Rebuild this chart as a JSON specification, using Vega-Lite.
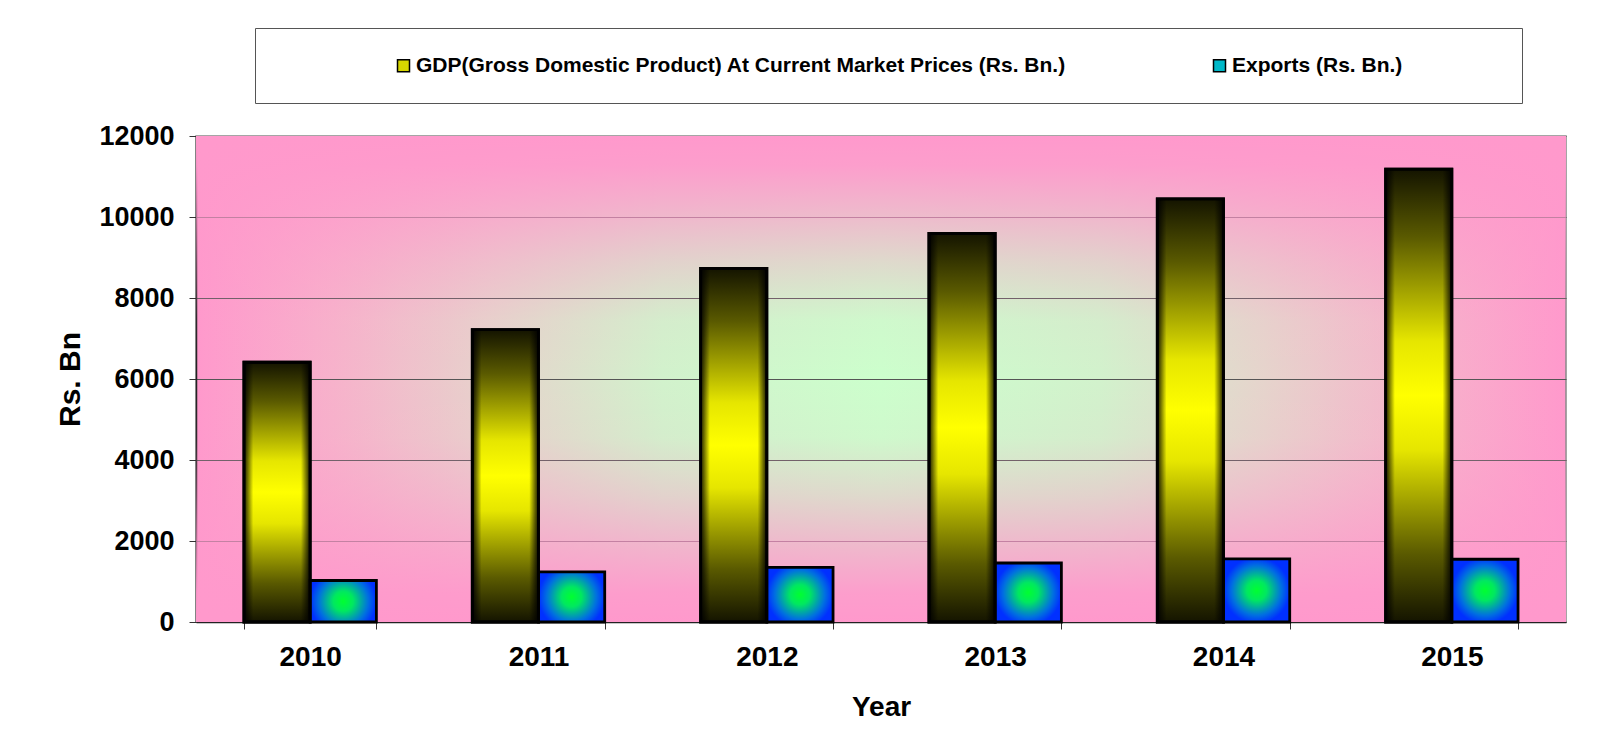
{
  "$schema": "https://vega.github.io/schema/vega-lite/v6.json",
  "width": 1370,
  "height": 486,
  "autosize": {"type": "none"},
  "padding": {"left": 196, "top": 136, "right": 53, "bottom": 117},
  "background": "white",
  "datasets": {
    "main": [
      {"year": "2010", "series": "GDP(Gross Domestic Product) At Current Market Prices (Rs. Bn.)", "value": 6413},
      {"year": "2010", "series": "Exports (Rs. Bn.)", "value": 1025},
      {"year": "2011", "series": "GDP(Gross Domestic Product) At Current Market Prices (Rs. Bn.)", "value": 7219},
      {"year": "2011", "series": "Exports (Rs. Bn.)", "value": 1240},
      {"year": "2012", "series": "GDP(Gross Domestic Product) At Current Market Prices (Rs. Bn.)", "value": 8732},
      {"year": "2012", "series": "Exports (Rs. Bn.)", "value": 1350},
      {"year": "2013", "series": "GDP(Gross Domestic Product) At Current Market Prices (Rs. Bn.)", "value": 9592},
      {"year": "2013", "series": "Exports (Rs. Bn.)", "value": 1457},
      {"year": "2014", "series": "GDP(Gross Domestic Product) At Current Market Prices (Rs. Bn.)", "value": 10448},
      {"year": "2014", "series": "Exports (Rs. Bn.)", "value": 1560},
      {"year": "2015", "series": "GDP(Gross Domestic Product) At Current Market Prices (Rs. Bn.)", "value": 11183},
      {"year": "2015", "series": "Exports (Rs. Bn.)", "value": 1550}
    ],
    "plotband": [{}]
  },
  "layer": [
    {
      "data": {"name": "plotband"},
      "mark": {
        "type": "rect",
        "fill": {
          "gradient": "linear",
          "x1": 0, "y1": 0, "x2": 0, "y2": 1,
          "stops": [
            {"offset": 0, "color": "rgba(255,153,204,1)"},
            {"offset": 0.06, "color": "rgba(255,153,204,0.95)"},
            {"offset": 0.15, "color": "rgba(255,153,204,0.7)"},
            {"offset": 0.26, "color": "rgba(255,153,204,0.36)"},
            {"offset": 0.38, "color": "rgba(255,153,204,0.06)"},
            {"offset": 0.5, "color": "rgba(255,153,204,0)"},
            {"offset": 0.62, "color": "rgba(255,153,204,0.06)"},
            {"offset": 0.74, "color": "rgba(255,153,204,0.36)"},
            {"offset": 0.85, "color": "rgba(255,153,204,0.7)"},
            {"offset": 0.94, "color": "rgba(255,153,204,0.95)"},
            {"offset": 1, "color": "rgba(255,153,204,1)"}
          ]
        }
      },
      "encoding": {
        "y": {"datum": 12000, "type": "quantitative", "scale": {"domain": [0, 12000], "nice": false}, "axis": {"title": "Rs. Bn", "values": [0, 2000, 4000, 6000, 8000, 10000, 12000]}},
        "y2": {"datum": 0}
      }
    },
    {
      "data": {"name": "main"},
      "mark": {"type": "bar"},
      "encoding": {
        "x": {"field": "year", "type": "nominal", "scale": {"paddingInner": 0.42, "paddingOuter": 0.21}, "axis": {"title": "Year"}},
        "xOffset": {"field": "series", "type": "nominal", "sort": ["GDP(Gross Domestic Product) At Current Market Prices (Rs. Bn.)", "Exports (Rs. Bn.)"]},
        "y": {"field": "value", "type": "quantitative", "scale": {"domain": [0, 12000], "nice": false}, "axis": {"title": "Rs. Bn", "values": [0, 2000, 4000, 6000, 8000, 10000, 12000]}},
        "color": {
          "field": "series",
          "type": "nominal",
          "scale": {
            "domain": ["GDP(Gross Domestic Product) At Current Market Prices (Rs. Bn.)", "Exports (Rs. Bn.)"],
            "range": ["#d6d600", "#00b8c8"]
          },
          "legend": {
            "orient": "none",
            "legendX": 59,
            "legendY": -108,
            "direction": "horizontal",
            "title": "\u00a0",
            "titleOrient": "right",
            "titleFontSize": 21,
            "titlePadding": 93,
            "padding": 27,
            "strokeColor": "#555555",
            "fillColor": "white",
            "columnPadding": 32,
            "labelFont": "Liberation Sans",
            "labelFontSize": 21,
            "labelFontWeight": "bold",
            "labelColor": "black",
            "labelLimit": 2000,
            "labelOffset": 2,
            "symbolOffset": 111,
            "symbolType": "square",
            "symbolSize": 144,
            "symbolStrokeColor": "black",
            "symbolStrokeWidth": 1.5,
            "symbolOpacity": 1
          }
        }
      }
    },
    {
      "data": {"name": "main"},
      "mark": {"type": "bar", "stroke": "black", "strokeWidth": 2.8},
      "encoding": {
        "x": {"field": "year", "type": "nominal", "axis": {"title": "Year"}},
        "xOffset": {"field": "series", "type": "nominal", "sort": ["GDP(Gross Domestic Product) At Current Market Prices (Rs. Bn.)", "Exports (Rs. Bn.)"]},
        "y": {"field": "value", "type": "quantitative", "axis": {"title": "Rs. Bn", "values": [0, 2000, 4000, 6000, 8000, 10000, 12000]}},
        "fill": {
          "condition": {
            "test": "datum.series === 'Exports (Rs. Bn.)'",
            "value": {
              "gradient": "radial",
              "x1": 0.5, "y1": 0.5, "r1": 0,
              "x2": 0.5, "y2": 0.5, "r2": 0.5,
              "stops": [
                {"offset": 0, "color": "#00ff30"},
                {"offset": 0.3, "color": "#00e860"},
                {"offset": 0.75, "color": "#0070e0"},
                {"offset": 1, "color": "#0030ff"}
              ]
            }
          },
          "value": {
            "gradient": "linear",
            "x1": 0, "y1": 0, "x2": 0, "y2": 1,
            "stops": [
              {"offset": 0, "color": "#141400"},
              {"offset": 0.15, "color": "#5a5a00"},
              {"offset": 0.38, "color": "#e6e600"},
              {"offset": 0.5, "color": "#ffff00"},
              {"offset": 0.62, "color": "#e6e600"},
              {"offset": 0.85, "color": "#5a5a00"},
              {"offset": 1, "color": "#141400"}
            ]
          }
        }
      }
    },
    {
      "data": {"name": "main"},
      "transform": [{"filter": "datum.series !== 'Exports (Rs. Bn.)'"}],
      "mark": {
        "type": "bar",
        "stroke": "black",
        "strokeWidth": 2.8,
        "fill": {
          "gradient": "linear",
          "x1": 0, "y1": 0, "x2": 1, "y2": 0,
          "stops": [
            {"offset": 0, "color": "rgba(0,0,0,0.9)"},
            {"offset": 0.14, "color": "rgba(0,0,0,0)"},
            {"offset": 0.86, "color": "rgba(0,0,0,0)"},
            {"offset": 1, "color": "rgba(0,0,0,0.9)"}
          ]
        }
      },
      "encoding": {
        "x": {"field": "year", "type": "nominal", "axis": {"title": "Year"}},
        "xOffset": {"field": "series", "type": "nominal", "sort": ["GDP(Gross Domestic Product) At Current Market Prices (Rs. Bn.)", "Exports (Rs. Bn.)"]},
        "y": {"field": "value", "type": "quantitative", "axis": {"title": "Rs. Bn", "values": [0, 2000, 4000, 6000, 8000, 10000, 12000]}}
      }
    }
  ],
  "config": {
    "view": {
      "stroke": "#888888",
      "strokeWidth": 1.5,
      "fill": {
        "gradient": "linear",
        "x1": 0, "y1": 0, "x2": 1, "y2": 0,
        "stops": [
          {"offset": 0, "color": "#ff99cc"},
          {"offset": 0.1, "color": "#f7b2cb"},
          {"offset": 0.22, "color": "#e6d4cc"},
          {"offset": 0.34, "color": "#d2f2cc"},
          {"offset": 0.5, "color": "#ccffcc"},
          {"offset": 0.66, "color": "#d2f2cc"},
          {"offset": 0.78, "color": "#e6d4cc"},
          {"offset": 0.9, "color": "#f7b2cb"},
          {"offset": 1, "color": "#ff99cc"}
        ]
      }
    },
    "axisX": {
      "titleFont": "Liberation Sans",
      "titleFontSize": 28,
      "titleFontWeight": "bold",
      "titleColor": "black",
      "titlePadding": 22,
      "labelFont": "Liberation Sans",
      "labelFontSize": 28,
      "labelFontWeight": "bold",
      "labelColor": "black",
      "labelAngle": 0,
      "labelPadding": 14,
      "tickSize": 7,
      "tickBand": "extent",
      "tickColor": "#333333",
      "domainColor": "#222222",
      "domainWidth": 1.5,
      "grid": false
    },
    "axisY": {
      "titleFont": "Liberation Sans",
      "titleFontSize": 30,
      "titleFontWeight": "bold",
      "titleColor": "black",
      "titlePadding": 13,
      "labelFont": "Liberation Sans",
      "labelFontSize": 27,
      "labelFontWeight": "bold",
      "labelColor": "black",
      "labelPadding": 15,
      "labelOverlap": false,
      "format": "d",
      "tickSize": 7,
      "tickColor": "#333333",
      "domainColor": "#222222",
      "domainWidth": 1.5,
      "grid": true,
      "gridColor": "#555555",
      "gridWidth": 1.2
    }
  }
}
